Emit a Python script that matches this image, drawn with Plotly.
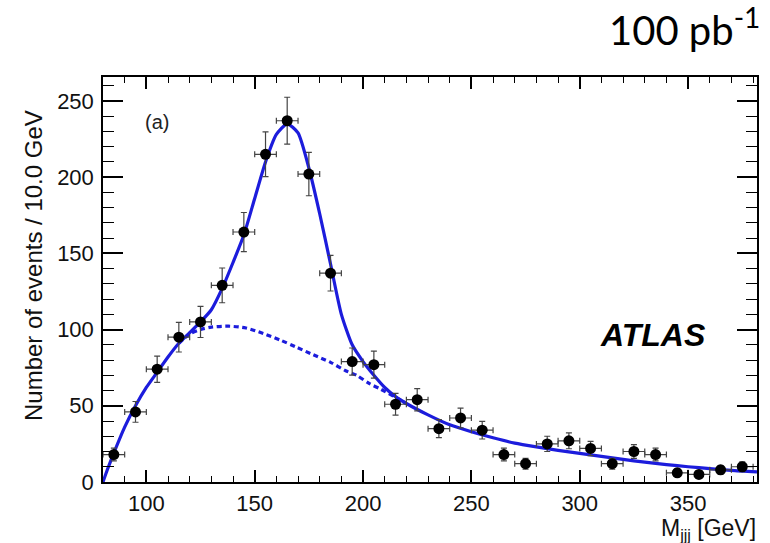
import plotly.graph_objects as go

# ---- data ----
bin_centers = [85, 95, 105, 115, 125, 135, 145, 155, 165, 175, 185, 195, 205, 215, 225,
               235, 245, 255, 265, 275, 285, 295, 305, 315, 325, 335, 345, 355, 365, 375]
counts = [18, 46, 74, 95, 105, 129, 164, 215, 237, 202, 137, 79, 77, 51, 54,
          35, 42, 34, 18, 12, 25, 27, 22, 12, 20, 18, 6, 5, 8, 10]
count_err = [4.2, 6.8, 8.6, 9.7, 10.2, 11.4, 12.8, 14.7, 15.4, 14.2, 11.7, 8.9, 8.8, 7.1, 7.3,
             5.9, 6.5, 5.8, 4.2, 3.5, 5.0, 5.2, 4.7, 3.5, 4.5, 4.2, 2.4, 2.2, 2.8, 3.2]
bin_half_width = [5] * len(bin_centers)

fit_x = [80, 82, 85, 90, 95, 100, 105, 110, 115, 120, 125, 130, 135, 140, 145, 150, 155, 160,
         165, 170, 175, 180, 185, 190, 195, 200, 205, 210, 215, 220, 230, 240, 250, 260, 270,
         280, 290, 300, 310, 320, 330, 340, 350, 360, 370, 381.8]
fit_total = [0, 8, 19, 36, 50, 62, 72, 82, 91, 98, 105, 113, 127, 144, 162, 186, 210, 228,
             235, 229, 206, 176, 143, 110, 90, 79, 70, 62, 56, 51.5, 44, 37.5, 33, 29, 25.5,
             23, 20.8, 18.8, 16.8, 14.8, 13, 11.4, 10, 8.8, 7.6, 6.6]

bkg_x = [115, 120, 125, 130, 138, 146, 154, 162, 169, 177, 185, 192, 197, 203, 208, 215, 220]
bkg_y = [91, 97, 100, 101.6, 102.2, 101, 97.4, 93, 88.6, 83.5, 78.5, 73, 70, 64.5, 61, 55.5, 51.5]

x_range = [80, 381.8]
y_range = [0, 265.7]

BLUE = "#1c1cdc"
FONT = "Liberation Sans, Arial, sans-serif"

fig = go.Figure()

fig.add_trace(go.Scatter(
    x=bkg_x, y=bkg_y, mode="lines",
    line=dict(color=BLUE, width=3.2, dash="5px,3.5px", shape="spline", smoothing=0.8),
    hoverinfo="skip", showlegend=False))

fig.add_trace(go.Scatter(
    x=fit_x, y=fit_total, mode="lines",
    line=dict(color=BLUE, width=3.2, shape="spline", smoothing=0.6),
    hoverinfo="skip", showlegend=False))

fig.add_trace(go.Scatter(
    x=bin_centers, y=counts, mode="markers",
    marker=dict(color="black", size=11),
    error_y=dict(type="data", array=count_err, color="#444", thickness=1.2, width=3),
    error_x=dict(type="data", array=bin_half_width, color="#444", thickness=1.2, width=3),
    showlegend=False))

axis_common = dict(
    showline=True, linecolor="black", linewidth=1.5, mirror="allticks",
    ticks="inside", tickcolor="black", tickwidth=1.5,
    showgrid=False, zeroline=False,
    tickfont=dict(family=FONT, size=22, color="#111"),
)

fig.update_xaxes(range=x_range, tickvals=[100, 150, 200, 250, 300, 350], ticklen=12,
                 minor=dict(ticks="inside", dtick=10, tick0=80, ticklen=6,
                            tickcolor="black", tickwidth=1.2),
                 ticklabelstandoff=1, **axis_common)
fig.update_yaxes(range=y_range, tickvals=[0, 50, 100, 150, 200, 250], ticklen=20,
                 minor=dict(ticks="inside", dtick=10, tick0=0, ticklen=11,
                            tickcolor="black", tickwidth=1.2),
                 ticklabelstandoff=3, **axis_common)

L, R, T, B = 103, 13, 77, 61
W, H = 770, 543
pw, ph = W - L - R, H - T - B


def px_to_paper(px, py):
    return (px - L) / pw, (H - B - py) / ph


annotations = []
ax, ay = px_to_paper(157, 122)
annotations.append(dict(x=ax, y=ay, text="(a)", font=dict(family=FONT, size=20, color="#222")))
ax, ay = px_to_paper(653, 335)
annotations.append(dict(x=ax, y=ay, text="<b><i>ATLAS</i></b>",
                        font=dict(family=FONT, size=32, color="black")))
ax, ay = px_to_paper(758, 529)
annotations.append(dict(x=ax, y=ay, text="M<sub>jjj</sub> [GeV]", xanchor="right",
                        font=dict(family=FONT, size=23, color="#111")))
ax, ay = px_to_paper(33, 266)
annotations.append(dict(x=ax, y=ay, text="Number of events / 10.0 GeV", textangle=-90,
                        font=dict(family=FONT, size=24, color="#111")))
ax, ay = px_to_paper(762, 27)
annotations.append(dict(x=ax, y=ay, text="100 pb<sup>-1</sup>", xanchor="right",
                        font=dict(family="Lato, Noto Sans, sans-serif", size=40, color="black")))
for a in annotations:
    a.update(xref="paper", yref="paper", showarrow=False)
    a.setdefault("xanchor", "center")
    a.setdefault("yanchor", "middle")

fig.update_layout(
    width=W, height=H,
    margin=dict(l=L, r=R, t=T, b=B),
    paper_bgcolor="white", plot_bgcolor="white",
    annotations=annotations,
)

fig.write_html("out.html")
